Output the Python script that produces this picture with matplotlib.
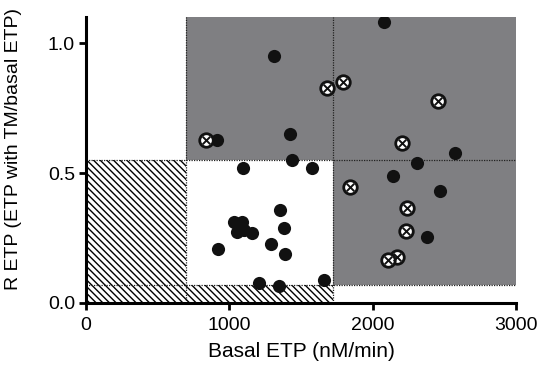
import matplotlib
matplotlib.use("Agg")
import matplotlib.pyplot as plt
from matplotlib.patches import Rectangle

plt.rcParams['font.family'] = ['Liberation Sans', 'DejaVu Sans']
plt.rcParams['hatch.linewidth'] = 1.0

# thresholds of the regions
x_lo, x_hi = 700, 1720
y_lo, y_hi = 0.07, 0.55
x_max, y_max = 3000, 1.1

# filled circles
filled_x = [2077, 1308, 916, 1420, 1434, 1095, 1573, 2573, 2308, 2140, 2469, 2378, 1657,
            1350, 1035, 1091, 1056, 1105, 1161, 1378, 923, 1287, 1385, 1210, 1343]
filled_y = [1.08, 0.95, 0.627, 0.65, 0.55, 0.52, 0.52, 0.577, 0.54, 0.49, 0.43, 0.255, 0.088,
            0.358, 0.31, 0.31, 0.273, 0.28, 0.27, 0.29, 0.208, 0.227, 0.188, 0.077, 0.066]

# crossed circles
cross_x = [839, 1678, 1790, 2455, 2203, 1839, 2238, 2231, 2168, 2105]
cross_y = [0.627, 0.827, 0.85, 0.777, 0.615, 0.446, 0.365, 0.277, 0.177, 0.165]

gray = '#7f7f82'

fig = plt.figure(figsize=(5.41, 3.73), dpi=100)
ax = fig.add_axes([0.159, 0.188, 0.795, 0.766])

# shaded regions
ax.add_patch(Rectangle((x_lo, y_hi), x_max - x_lo, y_max - y_hi, facecolor=gray, edgecolor='none', zorder=1))
ax.add_patch(Rectangle((x_hi, y_lo), x_max - x_hi, y_hi - y_lo, facecolor=gray, edgecolor='none', zorder=1))
ax.add_patch(Rectangle((0, 0), x_lo, y_hi, facecolor='white', edgecolor='black', linewidth=0,
                       hatch='\\\\\\\\\\', zorder=1))
ax.add_patch(Rectangle((x_lo, 0), x_hi - x_lo, y_lo, facecolor='white', edgecolor='black', linewidth=0,
                       hatch='\\\\\\\\\\', zorder=1))

# dotted borders
dot = dict(color='#222222', linewidth=0.9, linestyle=(0, (1, 1)), zorder=2)
ax.plot([x_lo, x_lo], [0, y_max], **dot)
ax.plot([x_hi, x_hi], [0, y_max], **dot)
ax.plot([0, x_max], [y_hi, y_hi], **dot)
ax.plot([0, x_max], [y_lo, y_lo], **dot)

ax.scatter(filled_x, filled_y, s=90, color='#111111', zorder=3, linewidths=0)
ax.scatter(cross_x, cross_y, s=95, facecolor='white', edgecolor='#111111', linewidths=2.0, zorder=3)
ax.scatter(cross_x, cross_y, s=30, marker='x', color='#111111', linewidths=1.4, zorder=4)

ax.set_xlim(0, x_max)
ax.set_ylim(0, y_max)
ax.set_xticks([0, 1000, 2000, 3000])
ax.set_yticks([0.0, 0.5, 1.0])
ax.set_yticklabels(['0.0', '0.5', '1.0'])

for s in ['top', 'right']:
    ax.spines[s].set_visible(False)
for s in ['left', 'bottom']:
    ax.spines[s].set_linewidth(2.2)
    ax.spines[s].set_zorder(5)
ax.tick_params(width=2, length=5, labelsize=14, pad=3)
ax.tick_params(axis='x', pad=5)

ax.set_xlabel('Basal ETP (nM/min)', fontsize=15, labelpad=6)
ax.set_ylabel('R ETP (ETP with TM/basal ETP)', fontsize=14)
ax.yaxis.set_label_coords(-0.149, 0.54)

plt.savefig('out.png', dpi=100)
